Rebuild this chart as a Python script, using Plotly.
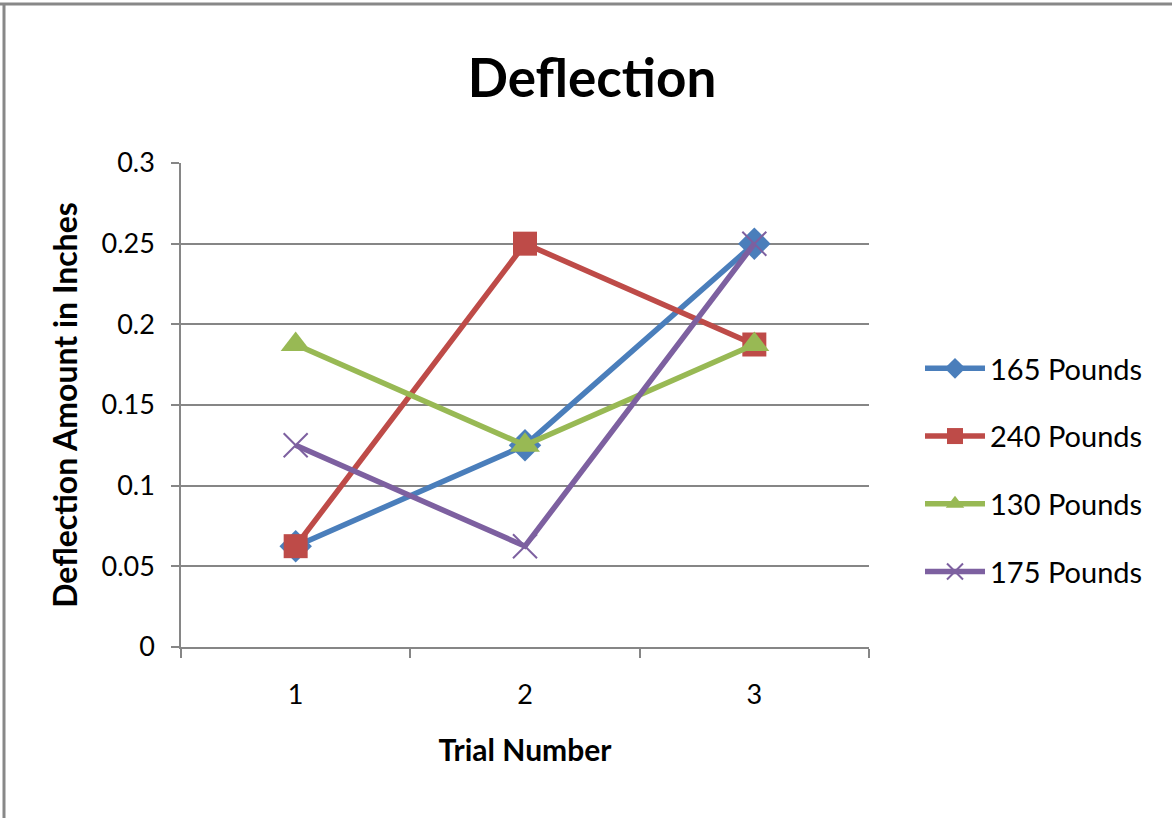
import plotly.graph_objects as go

trials = ["1", "2", "3"]
series_names = ["165 Pounds", "240 Pounds", "130 Pounds", "175 Pounds"]
vals_165 = [0.0625, 0.125, 0.25]
vals_240 = [0.0625, 0.25, 0.1875]
vals_130 = [0.1875, 0.125, 0.1875]
vals_175 = [0.125, 0.0625, 0.25]

colors = ["#4A7EBB", "#BE4B48", "#98B954", "#7D60A0"]
symbols = ["diamond", "square", "triangle-up", "x-thin"]
sizes = [25, 24, 26, 24]

W, H = 1172, 818
L, R, T, B = 181, 869, 163, 647
FONT = "Lato"

fig = go.Figure()
for name, vals, c, s, sz in zip(series_names, [vals_165, vals_240, vals_130, vals_175], colors, symbols, sizes):
    marker = dict(symbol=s, size=sz, color=c)
    if s == "x-thin":
        marker["line"] = dict(color=c, width=2)
    fig.add_trace(go.Scatter(
        x=trials, y=vals, name=name, mode="lines+markers",
        line=dict(color=c, width=5.5), marker=marker, legendgroup=name,
    ))

def px2paper_x(px):
    return (px - L) / (R - L)

def px2paper_y(py):
    return (B - py) / (B - T)

shapes = [
    dict(type="line", xref="paper", yref="paper",
         x0=px2paper_x(0), x1=px2paper_x(W), y0=px2paper_y(4), y1=px2paper_y(4),
         line=dict(color="#888888", width=3)),
    dict(type="line", xref="paper", yref="paper",
         x0=px2paper_x(4), x1=px2paper_x(4), y0=px2paper_y(3), y1=px2paper_y(H),
         line=dict(color="#888888", width=3)),
]

fig.update_layout(
    width=W, height=H,
    margin=dict(l=L, r=W - R, t=T, b=H - B),
    paper_bgcolor="white", plot_bgcolor="white",
    font=dict(family=FONT, color="#000000"),
    title=dict(text="<b>Deflection</b>", x=592 / W, xanchor="center",
               y=1 - 78 / H, yanchor="middle", yref="container",
               font=dict(size=53, family=FONT, color="#000000")),
    xaxis=dict(
        type="category", range=[-0.5, 2.5], tickson="boundaries",
        ticks="outside", ticklen=9, tickcolor="#868686", tickwidth=1.5,
        showline=True, linecolor="#868686", linewidth=1.5,
        showgrid=False, tickfont=dict(size=27, family=FONT),
        ticklabelstandoff=23,
        title=dict(text="<b>Trial Number</b>", font=dict(size=30, family=FONT), standoff=31),
    ),
    yaxis=dict(
        range=[0, 0.3], dtick=0.05, tick0=0,
        ticks="outside", ticklen=8, tickcolor="#868686", tickwidth=1.5,
        showline=True, linecolor="#868686", linewidth=1.5,
        showgrid=True, gridcolor="#868686", gridwidth=1.5,
        zeroline=False, tickfont=dict(size=27, family=FONT),
        ticklabelstandoff=11,
        title=dict(text="<b>Deflection Amount in Inches</b>", font=dict(size=32, family=FONT), standoff=14),
    ),
    legend=dict(
        x=px2paper_x(920), y=px2paper_y(343), yanchor="top",
        font=dict(size=29, family=FONT),
        traceorder="grouped", tracegroupgap=27, itemwidth=60,
        bgcolor="rgba(0,0,0,0)",
    ),
    shapes=shapes,
    showlegend=True,
)

fig.write_html("out.html", config={"displayModeBar": False},
               post_script="document.body.style.margin='0';")
